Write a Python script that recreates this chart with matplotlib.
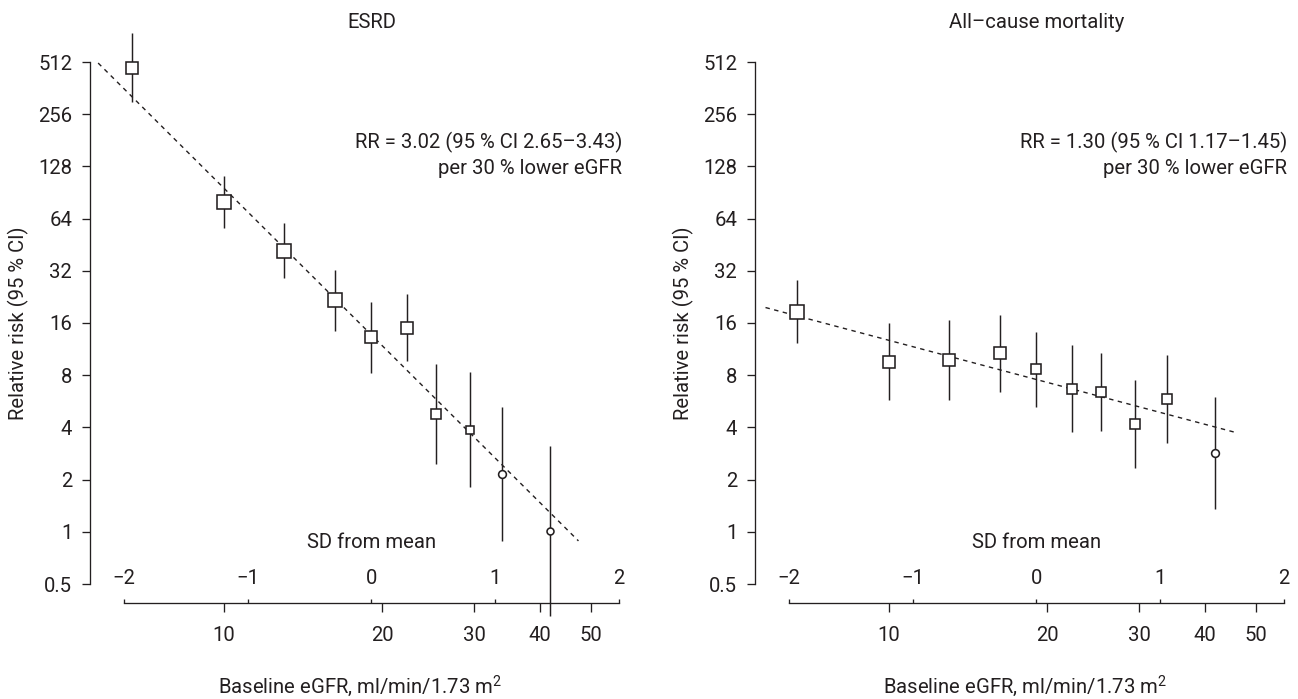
import matplotlib
matplotlib.use("Agg")
import matplotlib.pyplot as plt
from matplotlib.ticker import NullLocator

plt.rcParams['font.family'] = ['Roboto', 'DejaVu Sans']
plt.rcParams['mathtext.default'] = 'regular'

INK = '#231f20'
FS = 14.6

# baseline eGFR of each category (ml/min/1.73 m2), same in both panels
egfr = [6.68, 10.0, 13.0, 16.3, 19.1, 22.3, 25.4, 29.5, 33.9, 41.9]

# ESRD: relative risk and 95 % CI
esrd_rr = [474, 79.8, 41.6, 21.7, 13.3, 15.0, 4.78, 3.86, 2.15, 1.01]
esrd_lo = [301, 56.5, 29.1, 14.4, 8.23, 9.66, 2.46, 1.81, 0.886, 0.327]
esrd_hi = [752, 112.7, 60.4, 32.3, 21.1, 23.5, 9.29, 8.35, 5.25, 3.12]
esrd_fit_x = [5.75, 47.4]
esrd_fit_y = [505, 0.886]

# all-cause mortality
mort_rr = [18.6, 9.5, 9.85, 10.8, 8.63, 6.62, 6.38, 4.16, 5.85, 2.83]
mort_lo = [12.2, 5.74, 5.79, 6.38, 5.26, 3.75, 3.82, 2.32, 3.26, 1.36]
mort_hi = [28.5, 15.9, 16.6, 17.7, 14.2, 12.0, 10.7, 7.48, 10.4, 6.0]
mort_fit_x = [5.81, 46.1]
mort_fit_y = [19.65, 3.72]

y_ticks = [0.5, 1, 2, 4, 8, 16, 32, 64, 128, 256, 512]
y_tick_labels = ['0.5', '1', '2', '4', '8', '16', '32', '64', '128', '256', '512']
egfr_ticks = [10, 20, 30, 40, 50]
egfr_tick_labels = ['10', '20', '30', '40', '50']
sd_ticks = [-2, -1, 0, 1, 2]
sd_tick_labels = ['\u22122', '\u22121', '0', '1', '2']

titles = ['ESRD', 'All\u2013cause mortality']
rr_lines = ['RR = 3.02 (95 % CI 2.65\u20133.43)', 'RR = 1.30 (95 % CI 1.17\u20131.45)']

# marker style per category (size reflects weight)
esrd_marker = ['s'] * 8 + ['o'] * 2
esrd_size = [9.3, 10.4, 10.0, 10.4, 8.9, 8.9, 6.6, 6.3, 5.6, 5.0]
mort_marker = ['s'] * 9 + ['o']
mort_size = [10.2, 9.3, 8.6, 8.9, 7.6, 7.4, 7.9, 6.8, 7.6, 5.6]

# SD scale of eGFR (linear in log eGFR)
EGFR_MEAN = 19.1
DEC_PER_SD = 0.236
SD_LIM = (-2.275, 2.17)


def sd_to_egfr(sd):
    return EGFR_MEAN * 10 ** (DEC_PER_SD * sd)


# pixel helpers for text placement (axes box 90..640 x 62..584 px)
def fx(px):
    return (px - 90) / 550.0


def fy(py):
    return (584 - py) / 522.0


W, H = 1298, 699
fig = plt.figure(figsize=(W / 100, H / 100), dpi=100)

panels = [
    (90, esrd_rr, esrd_lo, esrd_hi, esrd_fit_x, esrd_fit_y, esrd_marker, esrd_size),
    (755, mort_rr, mort_lo, mort_hi, mort_fit_x, mort_fit_y, mort_marker, mort_size),
]

for i, (left_px, rr, lo, hi, fit_x, fit_y, mk, ms) in enumerate(panels):
    ax = fig.add_axes([left_px / W, (H - 584) / H, 550 / W, 522 / H])
    ax.set_xscale('log')
    ax.set_yscale('log', base=2)
    ax.set_xlim(sd_to_egfr(SD_LIM[0]), sd_to_egfr(SD_LIM[1]))
    ax.set_ylim(0.5, 512)

    ax.plot(fit_x, fit_y, ls=(0, (3.2, 3.2)), lw=1.0, color=INK, zorder=1)
    ax.vlines(egfr, lo, hi, color=INK, lw=1.05, zorder=2, clip_on=False)
    for x, y, m, s in zip(egfr, rr, mk, ms):
        ax.plot([x], [y], marker=m, ms=s, mfc='white', mec=INK, mew=1.15,
                ls='none', zorder=3, clip_on=False)

    for side in ['top', 'right']:
        ax.spines[side].set_visible(False)
    for side in ['left', 'bottom']:
        ax.spines[side].set_color(INK)
        ax.spines[side].set_linewidth(0.95)
    ax.spines['bottom'].set_position(('axes', -19 / 522))
    ax.spines['bottom'].set_bounds(sd_to_egfr(-2), sd_to_egfr(2))

    ax.set_yticks(y_ticks, y_tick_labels)
    ax.yaxis.set_minor_locator(NullLocator())
    ax.set_xticks(egfr_ticks, egfr_tick_labels)
    ax.xaxis.set_minor_locator(NullLocator())
    ax.tick_params(axis='y', length=5.8, width=0.95, pad=7, labelsize=FS,
                   color=INK, labelcolor=INK)
    ax.tick_params(axis='x', length=6.5, width=0.95, pad=10, labelsize=FS,
                   color=INK, labelcolor=INK)

    # SD from mean scale on the same line
    ax_sd = ax.twiny()
    ax_sd.set_xlim(*SD_LIM)
    ax_sd.set_xticks(sd_ticks, sd_tick_labels)
    ax_sd.xaxis.set_minor_locator(NullLocator())
    for side in ax_sd.spines:
        ax_sd.spines[side].set_visible(False)
    ax_sd.spines['top'].set_position(('axes', -19 / 522))
    ax_sd.tick_params(axis='x', direction='out', length=3.2, width=0.95, pad=7.5,
                      labelsize=FS, color=INK, labelcolor=INK)

    ax.text(fx(371.5), fy(28.3), titles[i], ha='center', va='baseline',
            fontsize=FS, color=INK, transform=ax.transAxes)
    ax.text(fx(622), fy(148.3), rr_lines[i], ha='right', va='baseline',
            fontsize=FS, color=INK, transform=ax.transAxes)
    ax.text(fx(622), fy(174), 'per 30 % lower eGFR', ha='right', va='baseline',
            fontsize=FS, color=INK, transform=ax.transAxes)
    ax.text(fx(371.5), fy(548.3), 'SD from mean', ha='center', va='baseline',
            fontsize=FS, color=INK, transform=ax.transAxes)
    ax.text(fx(360), fy(693.5), 'Baseline eGFR, ml/min/1.73 m$^{2}$', ha='center',
            va='baseline', fontsize=FS, color=INK, transform=ax.transAxes)
    ax.text(fx(18.6), fy(323), 'Relative risk (95 % CI)', ha='center', va='center',
            rotation=90, fontsize=FS, color=INK, transform=ax.transAxes)

fig.savefig('out.png', dpi=100)
